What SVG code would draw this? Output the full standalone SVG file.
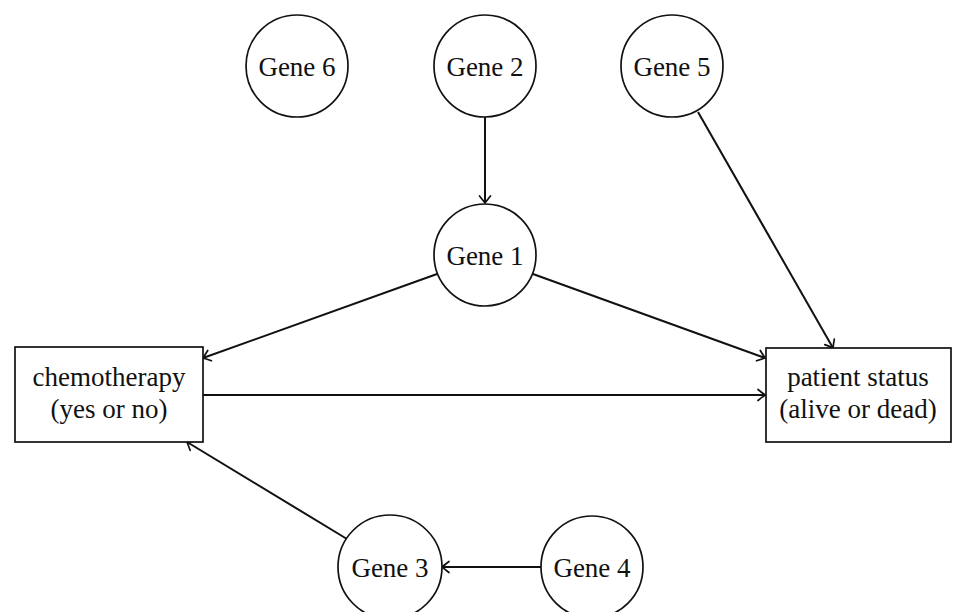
<svg xmlns="http://www.w3.org/2000/svg" width="953" height="612" viewBox="0 0 953 612">
<style>
.n{fill:#fff;stroke:#111;stroke-width:1.7}
.t{font-family:"Liberation Serif","DejaVu Serif",serif;font-size:27px;fill:#111;text-anchor:middle}
.e{fill:none;stroke:#111;stroke-width:2;marker-end:url(#ar)}
</style>
<defs>
<marker id="ar" markerWidth="14" markerHeight="14" refX="0" refY="0" viewBox="-10 -7 14 14" orient="auto" markerUnits="userSpaceOnUse">
<path d="M-7,-5.5 Q-2,-1.5 0,0 Q-2,1.5 -7,5.5" fill="none" stroke="#111" stroke-width="1.7" stroke-linecap="round"/>
</marker>
</defs>
<rect width="953" height="612" fill="#fff"/>
<g id="connectors">
<line class="e" x1="485" y1="117" x2="485" y2="203"/>
<line class="e" x1="437" y1="274" x2="203" y2="358"/>
<line class="e" x1="533" y1="274" x2="765" y2="358"/>
<line class="e" x1="698" y1="112" x2="833" y2="348"/>
<line class="e" x1="203" y1="395" x2="765" y2="395"/>
<line class="e" x1="347" y1="539" x2="187" y2="442"/>
<line class="e" x1="541" y1="567" x2="442" y2="567"/>
</g>
<g id="gene6"><circle class="n" cx="297" cy="66" r="51"/><text class="t" x="297" y="76">Gene 6</text></g>
<g id="gene2"><circle class="n" cx="485" cy="66" r="51"/><text class="t" x="485" y="76">Gene 2</text></g>
<g id="gene5"><circle class="n" cx="672" cy="66" r="51"/><text class="t" x="672" y="76">Gene 5</text></g>
<g id="gene1"><circle class="n" cx="485" cy="255" r="51"/><text class="t" x="485" y="265">Gene 1</text></g>
<g id="gene3"><circle class="n" cx="390" cy="567" r="52"/><text class="t" x="390" y="577">Gene 3</text></g>
<g id="gene4"><circle class="n" cx="592" cy="567" r="51"/><text class="t" x="592" y="577">Gene 4</text></g>
<g id="chemo"><rect class="n" x="15" y="347" width="188" height="95"/><text class="t" x="109" y="386">chemotherapy</text><text class="t" x="109" y="418">(yes or no)</text></g>
<g id="patient"><rect class="n" x="766" y="348" width="185" height="94"/><text class="t" x="858" y="386">patient status</text><text class="t" x="858" y="418">(alive or dead)</text></g>
</svg>
